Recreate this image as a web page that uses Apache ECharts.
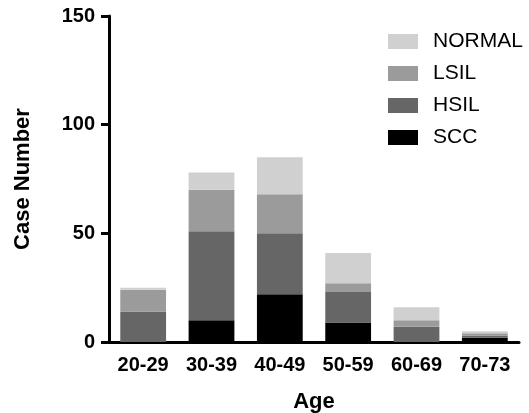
<!DOCTYPE html>
<html>
<head>
<meta charset="utf-8">
<script src="https://cdn.jsdelivr.net/npm/echarts@6/dist/echarts.min.js"></script>
<style>
html,body{margin:0;padding:0;background:#fff;}
#chart{width:529px;height:413px;}
</style>
</head>
<body>
<div id="chart"></div>
<script>
const categories = ['20-29', '30-39', '40-49', '50-59', '60-69', '70-73'];
const scc = [0, 10, 22, 9, 0, 2];
const hsil = [14, 41, 28, 14, 7, 1];
const lsil = [10, 19, 18, 4, 3, 1];
const normal = [1, 8, 17, 14, 6, 1];
const yTicks = { min: 0, max: 150, interval: 50 };

const FONT = '"Liberation Sans", Arial, Helvetica, sans-serif';
const chart = echarts.init(document.getElementById('chart'), null, { renderer: 'canvas' });

function bar(name, data, color) {
  return {
    name: name, type: 'bar', stack: 'total', data: data, barWidth: '67%',
    itemStyle: { color: color }, emphasis: { disabled: true }
  };
}

chart.setOption({
  animation: false,
  backgroundColor: '#ffffff',
  grid: { left: 109, right: 10, top: 16, bottom: 71, containLabel: false, outerBoundsMode: 'none' },
  legend: {
    orient: 'vertical', left: 383, top: 26,
    itemWidth: 30, itemHeight: 15, itemGap: 11,
    icon: 'rect',
    data: ['NORMAL', 'LSIL', 'HSIL', 'SCC'],
    textStyle: { fontFamily: FONT, fontSize: 21, color: '#000', padding: [0, 0, 0, 10] }
  },
  xAxis: {
    type: 'category', data: categories,
    name: 'Age', nameLocation: 'middle', nameGap: 49,
    nameTextStyle: { fontFamily: FONT, fontSize: 22, fontWeight: 'bold', color: '#000' },
    axisLine: { lineStyle: { color: '#000', width: 3 } },
    axisTick: { alignWithLabel: true, length: 9, lineStyle: { color: '#000', width: 3 } },
    axisLabel: { fontFamily: FONT, fontSize: 20, fontWeight: 'bold', color: '#000', margin: 13 }
  },
  yAxis: {
    type: 'value', min: yTicks.min, max: yTicks.max, interval: yTicks.interval,
    name: 'Case Number', nameLocation: 'middle', nameGap: 75,
    nameTextStyle: { fontFamily: FONT, fontSize: 22, fontWeight: 'bold', color: '#000' },
    axisLine: { show: true, lineStyle: { color: '#000', width: 3 } },
    axisTick: { show: true, length: 8, lineStyle: { color: '#000', width: 3 } },
    axisLabel: { fontFamily: FONT, fontSize: 20, fontWeight: 'bold', color: '#000', margin: 14 },
    splitLine: { show: false }
  },
  series: [
    bar('SCC', scc, '#000000'),
    bar('HSIL', hsil, '#666666'),
    bar('LSIL', lsil, '#9b9b9b'),
    bar('NORMAL', normal, '#d0d0d0')
  ]
});
</script>
</body>
</html>
